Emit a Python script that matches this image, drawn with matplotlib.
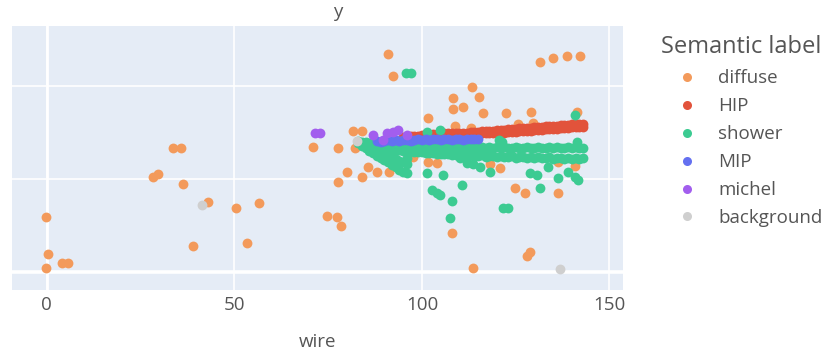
import matplotlib.pyplot as plt
from matplotlib.lines import Line2D

plt.rcParams['font.family'] = ['Open Sans', 'DejaVu Sans']

# categories and colours (plotly-like palette, slightly muted as in the screenshot)
labels = ['diffuse', 'HIP', 'shower', 'MIP', 'michel', 'background']
colors = ['#F39A5B', '#E2533B', '#3CCB92', '#6470F0', '#A25EEE', '#CFCFCF']

# diffuse hits (wire, y)
diffuse_wire = [-0.3, 0.3, -0.3, 4.0, 5.6, 28.3, 29.6, 33.6, 35.7, 36.3, 38.9, 42.9, 50.4, 56.5, 53.3,
                74.7, 77.3, 78.4, 70.9, 77.6, 82.1, 81.6, 84.0, 77.6, 80.0, 84.0, 85.6, 88.0, 91.2,
                90.9, 92.3, 96.3, 97.6, 101.6, 104.0, 101.6, 108.3, 115.2, 113.3, 108.3, 110.9,
                116.3, 122.4, 129.1, 141.3, 108.8, 113.1, 125.6, 129.6, 118.1, 120.8, 124.8, 127.5,
                136.3, 136.3, 140.8, 108.0, 128.8, 128.0, 113.6, 131.5, 134.9, 138.7, 142.1]
diffuse_y = [59, 19, 4, 10, 10, 102, 105, 133, 133, 95, 28, 75, 69, 74, 31,
             60, 59, 49, 134, 133, 133, 152, 152, 97, 108, 102, 113, 108, 108,
             235, 211, 123, 124, 118, 117, 166, 187, 188, 199, 175, 178,
             171, 171, 172, 172, 157, 155, 159, 160, 116, 112, 90, 85,
             85, 118, 114, 42, 22, 17, 4, 226, 230, 232, 232]

# HIP track, two rows of hits
hip_wire = [95, 96, 97, 98, 99, 100, 101, 102, 103, 104, 105, 106, 107, 108, 109, 110, 111, 112,
            113, 114, 115, 116, 117, 118, 119, 120, 121, 122, 123, 124, 125, 126, 127, 128, 129,
            130, 131, 132, 133, 134, 135, 136, 137, 138, 139, 140, 141, 142, 143]
hip_y_hi = [145, 145, 146, 146, 146, 147, 147, 147, 148, 148, 148, 149, 149, 149, 149, 150, 150, 150,
            151, 151, 151, 152, 152, 152, 152, 153, 153, 153, 154, 154, 154, 155, 155, 155, 155,
            156, 156, 156, 157, 157, 157, 157, 158, 158, 158, 159, 159, 159, 159]
hip_y_lo = [142, 142, 143, 143, 143, 144, 144, 144, 145, 145, 145, 146, 146, 146, 146, 147, 147, 147,
            148, 148, 148, 149, 149, 149, 149, 150, 150, 150, 151, 151, 151, 152, 152, 152, 152,
            153, 153, 153, 154, 154, 154, 154, 155, 155, 155, 156, 156, 156, 156]

# shower: main band, diagonal branch and isolated blobs
band_wire = [83, 84, 85, 86, 87, 88, 89, 90, 91, 92, 93, 94, 95, 96, 97, 98, 99, 100, 101, 102,
             103, 104, 105, 106, 107, 108, 109, 110, 111, 112, 113, 114, 115, 116, 117, 118, 119,
             120, 121, 122, 123, 124, 125, 126, 127, 128, 129, 130, 131, 132, 133, 134, 135, 136,
             137, 138, 139, 140, 141, 142, 143]
band_y_hi = [141, 140, 140, 139, 139, 139, 138, 138, 138, 138, 137, 137, 137, 137, 136, 136, 136, 136,
             136, 135, 136, 135, 135, 135, 134, 135, 134, 134, 135, 134, 134, 133, 134, 134, 133, 134,
             133, 134, 133, 134, 133, 133, 134, 133, 133, 134, 133, 133, 134, 133, 133, 134, 133, 134,
             133, 133, 134, 133, 134, 133, 133]
band_y_lo = [139, 137, 135, 134, 134, 133, 133, 132, 132, 131, 131, 131, 130, 130, 130, 129, 129, 129,
             128, 128, 128, 127, 127, 127, 127, 126, 126, 127, 126, 125, 126, 125, 125, 126, 124, 125,
             125, 124, 125, 124, 124, 125, 123, 124, 124, 123, 124, 123, 124, 123, 123, 124, 122, 123,
             123, 122, 123, 122, 123, 122, 123]
diag_wire = [84, 85, 86, 87, 88, 89, 90, 91, 92, 93, 94, 95, 96]
diag_y_hi = [139, 137, 135, 133, 131, 129, 127, 125, 123, 121, 119, 118, 116]
diag_y_lo = [136, 133, 130, 128, 125, 123, 120, 118, 115, 113, 110, 108, 106]
blob_wire = [95.8, 97.2, 101.3, 104.8, 121.3, 140.8, 141.3, 110.1, 96.0, 91.7, 112.0, 113.6, 115.5,
             118.1, 101.3, 105.6, 102.7, 104.8, 104.0, 108.0, 110.7, 107.5, 121.6, 122.9, 128.8,
             130.7, 133.6, 131.5, 136.3, 139.0, 140.8, 141.6, 120.5]
blob_y = [214, 214, 151, 153, 140, 169, 140, 123, 123, 118, 117, 116, 113,
          108, 106, 104, 88, 83, 85, 76, 94, 58, 69, 69, 106,
          104, 113, 90, 101, 108, 102, 99, 142]

# MIP track
mip_wire = [88, 89, 90, 91, 92, 93, 94, 95, 96, 97, 98, 99, 100, 101, 102, 103, 104, 105, 106, 107,
            108, 109, 110, 111, 112, 113, 114, 115]
mip_y = [141, 140, 141, 142, 141, 142, 141, 142, 142, 141, 142, 143, 142, 143, 142, 143, 143, 142,
         143, 143, 142, 143, 143, 142, 143, 143, 143, 143]

# michel hits
michel_wire = [71.6, 72.8, 86.9, 89.6, 90.7, 92.3, 93.6, 96.0]
michel_y = [149, 149, 147, 142, 149, 151, 153, 147]

# background hits
bg_wire = [82.7, 41.3, 136.8]
bg_y = [141, 72, 3]

fig = plt.figure(figsize=(8.37, 3.53), dpi=100)
ax = fig.add_axes([0.0143, 0.1785, 0.7300, 0.7475])
ax.set_facecolor('#E5ECF6')

ms = 50
ax.scatter(diffuse_wire, diffuse_y, s=ms, color=colors[0], linewidths=0, zorder=3)
ax.scatter(hip_wire + hip_wire, hip_y_hi + hip_y_lo, s=ms, color=colors[1], linewidths=0, zorder=3)
ax.scatter(band_wire + band_wire + diag_wire + diag_wire + blob_wire,
           band_y_hi + band_y_lo + diag_y_hi + diag_y_lo + blob_y,
           s=ms, color=colors[2], linewidths=0, zorder=3)
ax.scatter(mip_wire, mip_y, s=ms, color=colors[3], linewidths=0, zorder=3)
ax.scatter(michel_wire, michel_y, s=ms, color=colors[4], linewidths=0, zorder=3)
ax.scatter(bg_wire, bg_y, s=ms, color=colors[5], linewidths=0, zorder=3)

ax.set_xlim(-9.3, 153.6)
ax.set_ylim(-19.4, 264.5)
ax.set_xticks([0, 50, 100, 150])
ax.set_yticks([0, 100, 200])
ax.set_yticklabels([])
ax.grid(True, color='white', linewidth=1.2, zorder=0)
ax.axhline(0, color='white', linewidth=2.6, zorder=1)
ax.axvline(0, color='white', linewidth=2.0, zorder=1)
ax.tick_params(length=0, labelsize=13.5, labelcolor='#555555', pad=4)
for s in ax.spines.values():
    s.set_visible(False)

ax.set_xlabel('wire', fontsize=13.5, color='#555555', labelpad=14)
fig.text(0.404, 0.965, 'y', fontsize=13.5, color='#555555', ha='center', va='center')

handles = [Line2D([], [], marker='o', linestyle='', markersize=6.5, color=c,
                  markeredgewidth=0) for c in colors]
leg = fig.legend(handles, labels, title='Semantic label', loc='upper left',
                 bbox_to_anchor=(0.781, 0.921), frameon=False, fontsize=13.5,
                 labelspacing=0.53, handlelength=2.75, handletextpad=0.28, borderaxespad=0)
leg._legend_box.align = 'left'
leg.get_title().set_fontsize(17)
leg.get_title().set_color('#555555')
for t in leg.get_texts():
    t.set_color('#555555')

fig.savefig('out.png', dpi=100)
